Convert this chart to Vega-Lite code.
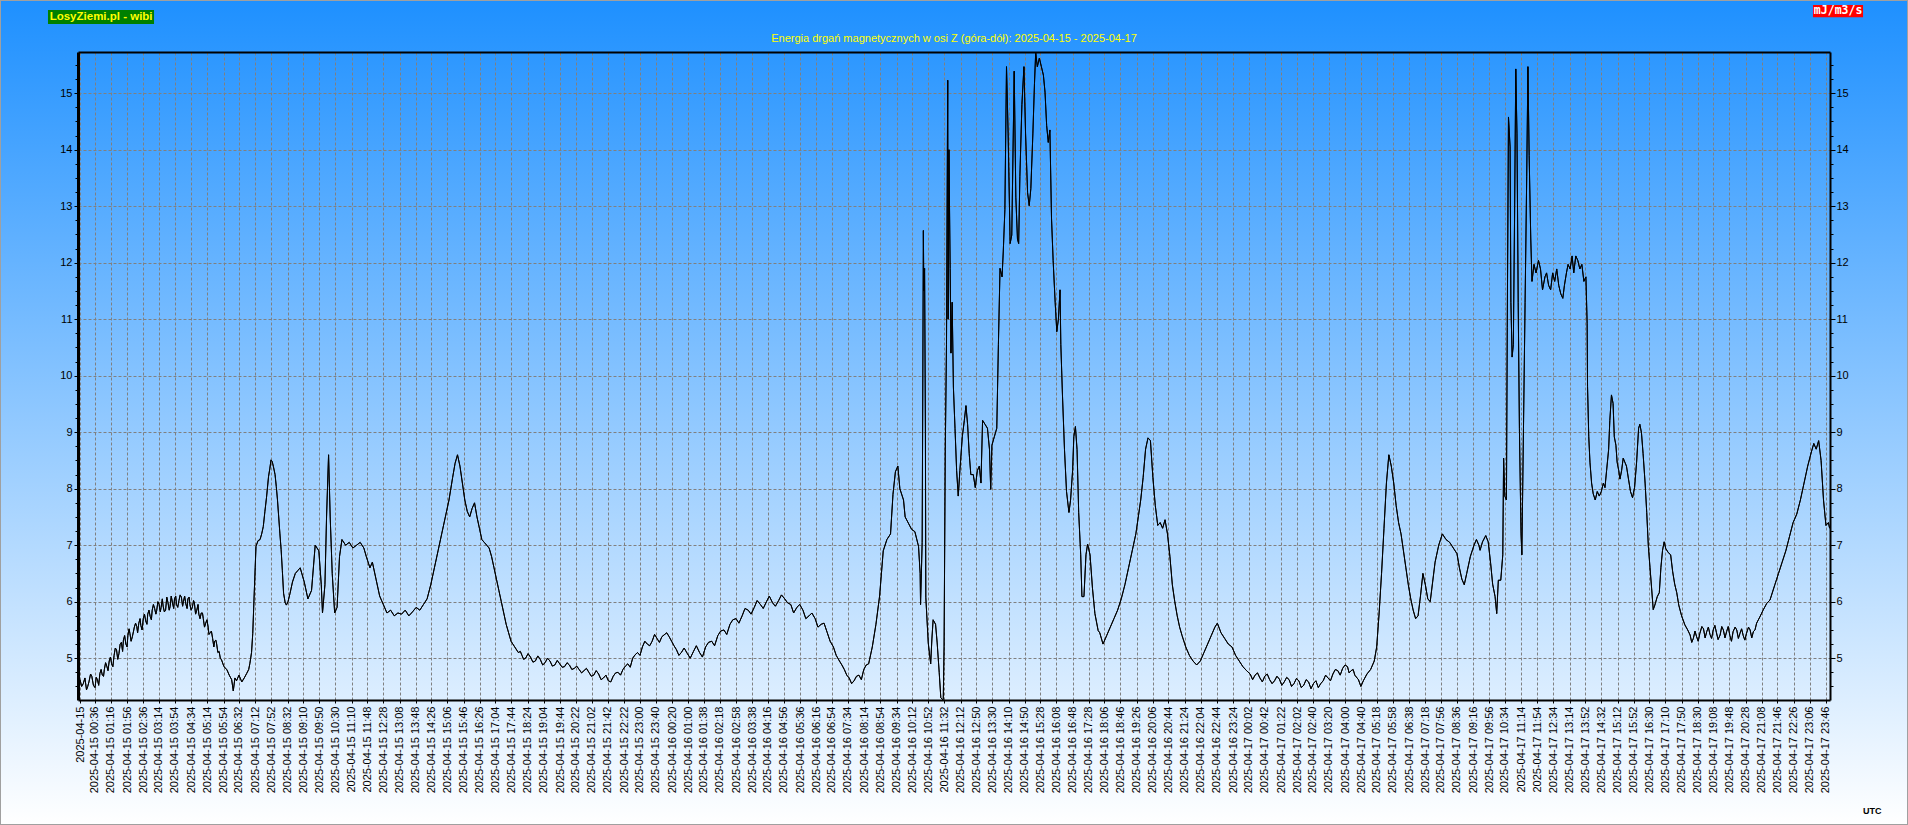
{
  "$schema": "https://vega.github.io/schema/vega-lite/v6.json",
  "width": 1908,
  "height": 825,
  "padding": 0,
  "autosize": {"type": "none"},
  "background": "#ffffff",
  "view": {
    "fill": {"gradient": "linear", "x1": 0, "y1": 0, "x2": 0, "y2": 1, "stops": [{"offset": 0, "color": "#1E90FF"}, {"offset": 1, "color": "#FFFFFF"}]},
    "stroke": "#a0a0a0",
    "strokeWidth": 2
  },
  "data": {
    "format": {"parse": {"t": "utc:'%Y-%m-%d %H:%M'"}},
    "values": [
      {"t":"2025-04-15 00:00","v":4.62},{"t":"2025-04-15 00:08","v":4.55},{"t":"2025-04-15 00:16","v":4.44},{"t":"2025-04-15 00:22","v":4.58},{"t":"2025-04-15 00:29","v":4.68},{"t":"2025-04-15 00:33","v":4.52},{"t":"2025-04-15 00:37","v":4.48},{"t":"2025-04-15 00:43","v":4.62},{"t":"2025-04-15 00:49","v":4.73},{"t":"2025-04-15 00:55","v":4.70},
      {"t":"2025-04-15 01:00","v":4.80},{"t":"2025-04-15 01:06","v":4.86},{"t":"2025-04-15 01:12","v":4.95},{"t":"2025-04-15 01:18","v":4.90},{"t":"2025-04-15 01:24","v":5.05},{"t":"2025-04-15 01:30","v":5.15},{"t":"2025-04-15 01:36","v":5.08},{"t":"2025-04-15 01:42","v":5.28},{"t":"2025-04-15 01:47","v":5.32},{"t":"2025-04-15 01:53","v":5.25},{"t":"2025-04-15 01:58","v":5.40},
      {"t":"2025-04-15 02:03","v":5.44},{"t":"2025-04-15 02:09","v":5.38},{"t":"2025-04-15 02:14","v":5.55},{"t":"2025-04-15 02:20","v":5.56},{"t":"2025-04-15 02:25","v":5.62},{"t":"2025-04-15 02:30","v":5.58},{"t":"2025-04-15 02:36","v":5.70},{"t":"2025-04-15 02:42","v":5.66},{"t":"2025-04-15 02:47","v":5.78},{"t":"2025-04-15 02:53","v":5.74},{"t":"2025-04-15 02:58","v":5.85},
      {"t":"2025-04-15 03:04","v":5.88},{"t":"2025-04-15 03:09","v":5.84},{"t":"2025-04-15 03:15","v":5.95},{"t":"2025-04-15 03:20","v":5.90},{"t":"2025-04-15 03:25","v":5.92},{"t":"2025-04-15 03:31","v":5.85},{"t":"2025-04-15 03:37","v":5.98},{"t":"2025-04-15 03:42","v":5.91},{"t":"2025-04-15 03:48","v":5.98},{"t":"2025-04-15 03:53","v":6.05},{"t":"2025-04-15 03:58","v":5.95},
      {"t":"2025-04-15 04:04","v":6.02},{"t":"2025-04-15 04:10","v":6.08},{"t":"2025-04-15 04:15","v":6.00},{"t":"2025-04-15 04:21","v":5.96},{"t":"2025-04-15 04:26","v":6.05},{"t":"2025-04-15 04:31","v":5.95},{"t":"2025-04-15 04:37","v":5.90},{"t":"2025-04-15 04:42","v":5.98},{"t":"2025-04-15 04:48","v":5.85},{"t":"2025-04-15 04:53","v":5.78},{"t":"2025-04-15 04:59","v":5.80},
      {"t":"2025-04-15 05:04","v":5.70},{"t":"2025-04-15 05:10","v":5.62},{"t":"2025-04-15 05:16","v":5.55},{"t":"2025-04-15 05:21","v":5.45},{"t":"2025-04-15 05:27","v":5.35},{"t":"2025-04-15 05:32","v":5.30},{"t":"2025-04-15 05:37","v":5.25},{"t":"2025-04-15 05:43","v":5.12},{"t":"2025-04-15 05:49","v":4.97},{"t":"2025-04-15 05:55","v":4.85},
      {"t":"2025-04-15 00:04","v":4.50},{"t":"2025-04-15 00:12","v":4.65},{"t":"2025-04-15 00:19","v":4.50},{"t":"2025-04-15 00:26","v":4.72},{"t":"2025-04-15 00:40","v":4.66},{"t":"2025-04-15 00:46","v":4.52},{"t":"2025-04-15 00:52","v":4.80},{"t":"2025-04-15 00:58","v":4.68},{"t":"2025-04-15 01:03","v":4.92},{"t":"2025-04-15 01:09","v":4.78},{"t":"2025-04-15 01:15","v":5.02},{"t":"2025-04-15 01:21","v":4.85},{"t":"2025-04-15 01:27","v":5.18},{"t":"2025-04-15 01:33","v":4.98},{"t":"2025-04-15 01:39","v":5.25},{"t":"2025-04-15 01:45","v":5.12},{"t":"2025-04-15 01:50","v":5.40},{"t":"2025-04-15 01:56","v":5.20},
      {"t":"2025-04-15 02:01","v":5.52},{"t":"2025-04-15 02:06","v":5.30},{"t":"2025-04-15 02:12","v":5.48},{"t":"2025-04-15 02:17","v":5.62},{"t":"2025-04-15 02:22","v":5.45},{"t":"2025-04-15 02:28","v":5.70},{"t":"2025-04-15 02:33","v":5.50},{"t":"2025-04-15 02:39","v":5.78},{"t":"2025-04-15 02:45","v":5.60},{"t":"2025-04-15 02:50","v":5.85},{"t":"2025-04-15 02:56","v":5.68},
      {"t":"2025-04-15 03:01","v":5.95},{"t":"2025-04-15 03:07","v":5.78},{"t":"2025-04-15 03:12","v":6.00},{"t":"2025-04-15 03:18","v":5.82},{"t":"2025-04-15 03:23","v":6.05},{"t":"2025-04-15 03:28","v":5.82},{"t":"2025-04-15 03:34","v":6.08},{"t":"2025-04-15 03:40","v":5.85},{"t":"2025-04-15 03:45","v":6.10},{"t":"2025-04-15 03:51","v":5.88},{"t":"2025-04-15 03:56","v":6.10},
      {"t":"2025-04-15 04:01","v":5.90},{"t":"2025-04-15 04:07","v":6.12},{"t":"2025-04-15 04:13","v":5.92},{"t":"2025-04-15 04:18","v":6.10},{"t":"2025-04-15 04:24","v":5.88},{"t":"2025-04-15 04:29","v":6.08},{"t":"2025-04-15 04:34","v":5.85},{"t":"2025-04-15 04:40","v":6.02},{"t":"2025-04-15 04:45","v":5.78},{"t":"2025-04-15 04:51","v":5.95},{"t":"2025-04-15 04:56","v":5.70},
      {"t":"2025-04-15 05:02","v":5.80},{"t":"2025-04-15 05:07","v":5.55},{"t":"2025-04-15 05:13","v":5.68},{"t":"2025-04-15 05:18","v":5.42},{"t":"2025-04-15 05:24","v":5.48},{"t":"2025-04-15 05:30","v":5.20},{"t":"2025-04-15 05:35","v":5.32},{"t":"2025-04-15 05:40","v":5.10},{"t":"2025-04-15 05:46","v":5.00},
      {"t":"2025-04-15 06:02","v":4.80},{"t":"2025-04-15 06:08","v":4.70},{"t":"2025-04-15 06:14","v":4.62},{"t":"2025-04-15 06:18","v":4.42},{"t":"2025-04-15 06:22","v":4.65},{"t":"2025-04-15 06:26","v":4.60},{"t":"2025-04-15 06:32","v":4.70},{"t":"2025-04-15 06:39","v":4.58},{"t":"2025-04-15 06:45","v":4.65},{"t":"2025-04-15 06:51","v":4.73},{"t":"2025-04-15 06:56","v":4.80},{"t":"2025-04-15 06:59","v":4.91},
      {"t":"2025-04-15 07:03","v":5.10},{"t":"2025-04-15 07:06","v":5.44},{"t":"2025-04-15 07:09","v":6.03},{"t":"2025-04-15 07:12","v":6.60},{"t":"2025-04-15 07:14","v":6.98},{"t":"2025-04-15 07:19","v":7.08},{"t":"2025-04-15 07:24","v":7.10},{"t":"2025-04-15 07:28","v":7.20},{"t":"2025-04-15 07:32","v":7.33},{"t":"2025-04-15 07:36","v":7.60},{"t":"2025-04-15 07:40","v":7.85},{"t":"2025-04-15 07:45","v":8.22},{"t":"2025-04-15 07:48","v":8.35},{"t":"2025-04-15 07:51","v":8.51},{"t":"2025-04-15 07:54","v":8.48},{"t":"2025-04-15 07:57","v":8.39},
      {"t":"2025-04-15 08:01","v":8.25},{"t":"2025-04-15 08:04","v":8.04},{"t":"2025-04-15 08:07","v":7.80},{"t":"2025-04-15 08:10","v":7.50},{"t":"2025-04-15 08:13","v":7.20},{"t":"2025-04-15 08:16","v":6.92},{"t":"2025-04-15 08:19","v":6.55},{"t":"2025-04-15 08:22","v":6.15},{"t":"2025-04-15 08:26","v":5.98},{"t":"2025-04-15 08:29","v":5.94},{"t":"2025-04-15 08:33","v":6.00},{"t":"2025-04-15 08:38","v":6.15},{"t":"2025-04-15 08:44","v":6.35},{"t":"2025-04-15 08:51","v":6.50},{"t":"2025-04-15 08:57","v":6.55},
      {"t":"2025-04-15 09:03","v":6.60},{"t":"2025-04-15 09:13","v":6.35},{"t":"2025-04-15 09:22","v":6.05},{"t":"2025-04-15 09:31","v":6.20},{"t":"2025-04-15 09:40","v":7.00},{"t":"2025-04-15 09:49","v":6.90},{"t":"2025-04-15 09:55","v":6.30},{"t":"2025-04-15 09:58","v":5.80},
      {"t":"2025-04-15 10:04","v":6.30},{"t":"2025-04-15 10:08","v":7.50},{"t":"2025-04-15 10:13","v":8.60},{"t":"2025-04-15 10:17","v":7.50},{"t":"2025-04-15 10:22","v":6.50},{"t":"2025-04-15 10:28","v":5.80},{"t":"2025-04-15 10:34","v":5.90},{"t":"2025-04-15 10:40","v":6.80},{"t":"2025-04-15 10:46","v":7.10},{"t":"2025-04-15 10:55","v":7.00},
      {"t":"2025-04-15 11:04","v":7.05},{"t":"2025-04-15 11:13","v":6.95},{"t":"2025-04-15 11:22","v":7.00},{"t":"2025-04-15 11:31","v":7.05},{"t":"2025-04-15 11:40","v":6.95},{"t":"2025-04-15 11:46","v":6.80},{"t":"2025-04-15 11:55","v":6.60},
      {"t":"2025-04-15 12:01","v":6.70},{"t":"2025-04-15 12:10","v":6.40},{"t":"2025-04-15 12:19","v":6.10},{"t":"2025-04-15 12:28","v":5.95},{"t":"2025-04-15 12:37","v":5.80},{"t":"2025-04-15 12:46","v":5.85},{"t":"2025-04-15 12:55","v":5.75},
      {"t":"2025-04-15 13:04","v":5.80},{"t":"2025-04-15 13:13","v":5.78},{"t":"2025-04-15 13:22","v":5.85},{"t":"2025-04-15 13:31","v":5.75},{"t":"2025-04-15 13:40","v":5.82},{"t":"2025-04-15 13:49","v":5.90},{"t":"2025-04-15 13:58","v":5.85},
      {"t":"2025-04-15 14:07","v":5.95},{"t":"2025-04-15 14:16","v":6.05},{"t":"2025-04-15 14:25","v":6.30},{"t":"2025-04-15 14:34","v":6.60},{"t":"2025-04-15 14:43","v":6.90},{"t":"2025-04-15 14:52","v":7.20},
      {"t":"2025-04-15 15:01","v":7.50},{"t":"2025-04-15 15:10","v":7.80},{"t":"2025-04-15 15:19","v":8.20},{"t":"2025-04-15 15:25","v":8.45},{"t":"2025-04-15 15:31","v":8.60},{"t":"2025-04-15 15:37","v":8.40},{"t":"2025-04-15 15:43","v":8.10},{"t":"2025-04-15 15:49","v":7.80},{"t":"2025-04-15 15:55","v":7.60},
      {"t":"2025-04-15 16:01","v":7.50},{"t":"2025-04-15 16:07","v":7.65},{"t":"2025-04-15 16:13","v":7.75},{"t":"2025-04-15 16:19","v":7.50},{"t":"2025-04-15 16:25","v":7.30},{"t":"2025-04-15 16:31","v":7.10},{"t":"2025-04-15 16:37","v":7.05},{"t":"2025-04-15 16:43","v":7.00},{"t":"2025-04-15 16:49","v":6.95},{"t":"2025-04-15 16:55","v":6.80},
      {"t":"2025-04-15 17:01","v":6.60},{"t":"2025-04-15 17:07","v":6.40},{"t":"2025-04-15 17:13","v":6.20},{"t":"2025-04-15 17:19","v":6.00},{"t":"2025-04-15 17:25","v":5.80},{"t":"2025-04-15 17:31","v":5.60},{"t":"2025-04-15 17:37","v":5.45},{"t":"2025-04-15 17:43","v":5.30},{"t":"2025-04-15 17:52","v":5.20},
      {"t":"2025-04-15 18:01","v":5.10},{"t":"2025-04-15 18:10","v":5.05},{"t":"2025-04-15 18:19","v":5.00},{"t":"2025-04-15 18:31","v":5.02},{"t":"2025-04-15 18:43","v":4.95},{"t":"2025-04-15 18:55","v":4.98},
      {"t":"2025-04-15 19:07","v":4.92},{"t":"2025-04-15 19:19","v":4.95},{"t":"2025-04-15 19:31","v":4.88},{"t":"2025-04-15 19:43","v":4.90},{"t":"2025-04-15 19:55","v":4.85},
      {"t":"2025-04-15 20:07","v":4.88},{"t":"2025-04-15 20:19","v":4.82},{"t":"2025-04-15 20:31","v":4.80},{"t":"2025-04-15 20:43","v":4.78},{"t":"2025-04-15 20:55","v":4.75},
      {"t":"2025-04-15 21:07","v":4.70},{"t":"2025-04-15 21:19","v":4.72},{"t":"2025-04-15 21:31","v":4.65},{"t":"2025-04-15 21:43","v":4.60},{"t":"2025-04-15 21:55","v":4.68},
      {"t":"2025-04-15 22:07","v":4.75},{"t":"2025-04-15 22:19","v":4.80},{"t":"2025-04-15 22:31","v":4.90},{"t":"2025-04-15 22:43","v":5.00},{"t":"2025-04-15 22:55","v":5.10},
      {"t":"2025-04-15 23:07","v":5.20},{"t":"2025-04-15 23:19","v":5.25},{"t":"2025-04-15 23:31","v":5.30},{"t":"2025-04-15 23:43","v":5.35},{"t":"2025-04-15 23:55","v":5.38},
      {"t":"2025-04-15 18:06","v":5.12},{"t":"2025-04-15 18:14","v":4.98},{"t":"2025-04-15 18:25","v":5.08},{"t":"2025-04-15 18:37","v":4.93},{"t":"2025-04-15 18:49","v":5.04},{"t":"2025-04-15 19:01","v":4.88},{"t":"2025-04-15 19:13","v":5.00},{"t":"2025-04-15 19:25","v":4.86},{"t":"2025-04-15 19:37","v":4.96},{"t":"2025-04-15 19:49","v":4.84},
      {"t":"2025-04-15 20:01","v":4.92},{"t":"2025-04-15 20:13","v":4.80},{"t":"2025-04-15 20:25","v":4.86},{"t":"2025-04-15 20:37","v":4.74},{"t":"2025-04-15 20:49","v":4.82},{"t":"2025-04-15 21:01","v":4.68},{"t":"2025-04-15 21:13","v":4.78},{"t":"2025-04-15 21:25","v":4.62},{"t":"2025-04-15 21:37","v":4.70},{"t":"2025-04-15 21:49","v":4.58},
      {"t":"2025-04-15 22:01","v":4.74},{"t":"2025-04-15 22:13","v":4.70},{"t":"2025-04-15 22:25","v":4.86},{"t":"2025-04-15 22:37","v":4.84},{"t":"2025-04-15 22:49","v":5.06},{"t":"2025-04-15 23:01","v":5.05},{"t":"2025-04-15 23:13","v":5.30},{"t":"2025-04-15 23:25","v":5.22},{"t":"2025-04-15 23:37","v":5.42},{"t":"2025-04-15 23:49","v":5.28},
      {"t":"2025-04-16 00:07","v":5.45},{"t":"2025-04-16 00:19","v":5.30},{"t":"2025-04-16 00:31","v":5.15},{"t":"2025-04-16 00:43","v":5.10},{"t":"2025-04-16 00:58","v":5.08},
      {"t":"2025-04-16 01:13","v":5.12},{"t":"2025-04-16 01:28","v":5.10},{"t":"2025-04-16 01:43","v":5.20},{"t":"2025-04-16 01:58","v":5.30},
      {"t":"2025-04-16 02:13","v":5.40},{"t":"2025-04-16 02:28","v":5.50},{"t":"2025-04-16 02:43","v":5.60},{"t":"2025-04-16 02:58","v":5.70},
      {"t":"2025-04-16 03:13","v":5.75},{"t":"2025-04-16 03:28","v":5.85},{"t":"2025-04-16 03:43","v":5.90},{"t":"2025-04-16 03:58","v":5.95},
      {"t":"2025-04-16 04:13","v":6.00},{"t":"2025-04-16 04:28","v":5.98},{"t":"2025-04-16 04:43","v":6.02},{"t":"2025-04-16 04:58","v":6.05},
      {"t":"2025-04-16 05:13","v":5.95},{"t":"2025-04-16 05:28","v":5.90},{"t":"2025-04-16 05:43","v":5.85},{"t":"2025-04-16 05:58","v":5.75},
      {"t":"2025-04-16 06:13","v":5.70},{"t":"2025-04-16 06:28","v":5.60},{"t":"2025-04-16 06:43","v":5.45},{"t":"2025-04-16 06:58","v":5.20},
      {"t":"2025-04-16 07:13","v":4.95},{"t":"2025-04-16 07:25","v":4.80},{"t":"2025-04-16 07:37","v":4.65},{"t":"2025-04-16 07:49","v":4.60},
      {"t":"2025-04-16 08:01","v":4.70},{"t":"2025-04-16 08:13","v":4.80},{"t":"2025-04-16 08:25","v":4.90},{"t":"2025-04-16 08:34","v":5.20},{"t":"2025-04-16 08:43","v":5.60},{"t":"2025-04-16 08:52","v":6.10},
      {"t":"2025-04-16 00:13","v":5.38},{"t":"2025-04-16 00:25","v":5.22},{"t":"2025-04-16 00:37","v":5.05},{"t":"2025-04-16 00:50","v":5.18},{"t":"2025-04-16 01:05","v":5.00},{"t":"2025-04-16 01:20","v":5.22},{"t":"2025-04-16 01:35","v":5.02},{"t":"2025-04-16 01:50","v":5.28},
      {"t":"2025-04-16 02:05","v":5.22},{"t":"2025-04-16 02:20","v":5.48},{"t":"2025-04-16 02:35","v":5.42},{"t":"2025-04-16 02:50","v":5.68},{"t":"2025-04-16 03:05","v":5.62},{"t":"2025-04-16 03:20","v":5.88},{"t":"2025-04-16 03:35","v":5.78},{"t":"2025-04-16 03:50","v":6.02},
      {"t":"2025-04-16 04:05","v":5.88},{"t":"2025-04-16 04:20","v":6.10},{"t":"2025-04-16 04:35","v":5.92},{"t":"2025-04-16 04:50","v":6.12},{"t":"2025-04-16 05:05","v":5.98},{"t":"2025-04-16 05:20","v":5.80},{"t":"2025-04-16 05:35","v":5.95},{"t":"2025-04-16 05:50","v":5.70},
      {"t":"2025-04-16 06:05","v":5.80},{"t":"2025-04-16 06:20","v":5.55},{"t":"2025-04-16 06:35","v":5.62},{"t":"2025-04-16 06:50","v":5.30},{"t":"2025-04-16 07:05","v":5.05},{"t":"2025-04-16 07:19","v":4.88},{"t":"2025-04-16 07:31","v":4.70},{"t":"2025-04-16 07:43","v":4.55},{"t":"2025-04-16 07:55","v":4.68},{"t":"2025-04-16 08:07","v":4.62},{"t":"2025-04-16 08:19","v":4.88},
      {"t":"2025-04-16 09:01","v":6.90},{"t":"2025-04-16 09:10","v":7.10},{"t":"2025-04-16 09:19","v":7.20},{"t":"2025-04-16 09:25","v":7.90},{"t":"2025-04-16 09:31","v":8.30},{"t":"2025-04-16 09:37","v":8.40},{"t":"2025-04-16 09:42","v":8.00},{"t":"2025-04-16 09:51","v":7.80},{"t":"2025-04-16 09:55","v":7.50},
      {"t":"2025-04-16 10:03","v":7.39},{"t":"2025-04-16 10:11","v":7.28},{"t":"2025-04-16 10:19","v":7.24},{"t":"2025-04-16 10:28","v":6.98},{"t":"2025-04-16 10:32","v":6.50},{"t":"2025-04-16 10:33","v":5.95},{"t":"2025-04-16 10:37","v":7.05},{"t":"2025-04-16 10:40","v":12.57},{"t":"2025-04-16 10:41","v":11.50},{"t":"2025-04-16 10:43","v":11.90},{"t":"2025-04-16 10:45","v":9.00},{"t":"2025-04-16 10:46","v":6.08},{"t":"2025-04-16 10:52","v":5.27},{"t":"2025-04-16 10:58","v":4.90},
      {"t":"2025-04-16 11:01","v":5.34},{"t":"2025-04-16 11:04","v":5.68},{"t":"2025-04-16 11:10","v":5.60},{"t":"2025-04-16 11:14","v":5.27},{"t":"2025-04-16 11:19","v":4.75},{"t":"2025-04-16 11:23","v":4.30},{"t":"2025-04-16 11:27","v":4.27},{"t":"2025-04-16 11:29","v":4.27},{"t":"2025-04-16 11:31","v":5.20},{"t":"2025-04-16 11:34","v":8.70},{"t":"2025-04-16 11:37","v":10.55},{"t":"2025-04-16 11:40","v":15.23},{"t":"2025-04-16 11:41","v":11.00},{"t":"2025-04-16 11:43","v":14.00},{"t":"2025-04-16 11:46","v":11.90},{"t":"2025-04-16 11:48","v":10.40},{"t":"2025-04-16 11:51","v":11.30},{"t":"2025-04-16 11:54","v":9.80},{"t":"2025-04-16 11:58","v":9.07},
      {"t":"2025-04-16 12:02","v":8.32},{"t":"2025-04-16 12:06","v":7.87},{"t":"2025-04-16 12:10","v":8.32},{"t":"2025-04-16 12:16","v":8.92},{"t":"2025-04-16 12:21","v":9.21},{"t":"2025-04-16 12:25","v":9.47},{"t":"2025-04-16 12:29","v":9.14},{"t":"2025-04-16 12:33","v":8.62},{"t":"2025-04-16 12:37","v":8.25},{"t":"2025-04-16 12:43","v":8.25},{"t":"2025-04-16 12:48","v":8.02},{"t":"2025-04-16 12:53","v":8.32},{"t":"2025-04-16 12:58","v":8.40},
      {"t":"2025-04-16 13:02","v":8.10},{"t":"2025-04-16 13:06","v":9.21},{"t":"2025-04-16 13:12","v":9.14},{"t":"2025-04-16 13:18","v":9.07},{"t":"2025-04-16 13:23","v":8.70},{"t":"2025-04-16 13:26","v":7.99},{"t":"2025-04-16 13:29","v":8.77},{"t":"2025-04-16 13:35","v":8.92},{"t":"2025-04-16 13:41","v":9.07},{"t":"2025-04-16 13:45","v":10.55},{"t":"2025-04-16 13:49","v":11.90},{"t":"2025-04-16 13:54","v":11.75},{"t":"2025-04-16 13:57","v":12.19},
      {"t":"2025-04-16 14:01","v":12.94},{"t":"2025-04-16 14:05","v":15.47},{"t":"2025-04-16 14:09","v":14.28},{"t":"2025-04-16 14:14","v":12.34},{"t":"2025-04-16 14:18","v":12.49},{"t":"2025-04-16 14:24","v":15.39},{"t":"2025-04-16 14:28","v":13.16},{"t":"2025-04-16 14:32","v":12.42},{"t":"2025-04-16 14:35","v":12.34},{"t":"2025-04-16 14:38","v":13.53},{"t":"2025-04-16 14:43","v":14.80},{"t":"2025-04-16 14:48","v":15.47},{"t":"2025-04-16 14:52","v":14.28},{"t":"2025-04-16 14:57","v":13.24},
      {"t":"2025-04-16 15:01","v":13.01},{"t":"2025-04-16 15:05","v":13.31},{"t":"2025-04-16 15:10","v":14.28},{"t":"2025-04-16 15:14","v":15.17},{"t":"2025-04-16 15:17","v":15.72},{"t":"2025-04-16 15:21","v":15.47},{"t":"2025-04-16 15:26","v":15.62},{"t":"2025-04-16 15:31","v":15.47},{"t":"2025-04-16 15:36","v":15.32},{"t":"2025-04-16 15:40","v":15.02},{"t":"2025-04-16 15:44","v":14.43},{"t":"2025-04-16 15:48","v":14.13},{"t":"2025-04-16 15:52","v":14.35},{"t":"2025-04-16 15:56","v":12.79},
      {"t":"2025-04-16 16:00","v":12.04},{"t":"2025-04-16 16:05","v":11.30},{"t":"2025-04-16 16:09","v":10.78},{"t":"2025-04-16 16:13","v":11.00},{"t":"2025-04-16 16:17","v":11.52},{"t":"2025-04-16 16:19","v":10.55},{"t":"2025-04-16 16:23","v":9.66},{"t":"2025-04-16 16:28","v":8.69},{"t":"2025-04-16 16:33","v":7.95},{"t":"2025-04-16 16:39","v":7.58},{"t":"2025-04-16 16:43","v":7.80},{"t":"2025-04-16 16:48","v":8.32},{"t":"2025-04-16 16:51","v":8.92},{"t":"2025-04-16 16:55","v":9.10},{"t":"2025-04-16 16:59","v":8.69},
      {"t":"2025-04-16 17:03","v":7.58},{"t":"2025-04-16 17:08","v":6.83},{"t":"2025-04-16 17:11","v":6.09},{"t":"2025-04-16 17:16","v":6.09},{"t":"2025-04-16 17:21","v":6.83},{"t":"2025-04-16 17:25","v":7.02},{"t":"2025-04-16 17:31","v":6.83},{"t":"2025-04-16 17:37","v":6.24},{"t":"2025-04-16 17:43","v":5.79},{"t":"2025-04-16 17:51","v":5.49},{"t":"2025-04-16 17:55","v":5.45},
      {"t":"2025-04-16 18:03","v":5.25},{"t":"2025-04-16 18:12","v":5.40},{"t":"2025-04-16 18:21","v":5.55},{"t":"2025-04-16 18:30","v":5.70},{"t":"2025-04-16 18:39","v":5.85},{"t":"2025-04-16 18:48","v":6.05},{"t":"2025-04-16 18:57","v":6.30},
      {"t":"2025-04-16 19:06","v":6.60},{"t":"2025-04-16 19:15","v":6.90},{"t":"2025-04-16 19:24","v":7.20},{"t":"2025-04-16 19:30","v":7.50},{"t":"2025-04-16 19:36","v":7.80},{"t":"2025-04-16 19:42","v":8.20},{"t":"2025-04-16 19:48","v":8.70},{"t":"2025-04-16 19:54","v":8.90},
      {"t":"2025-04-16 20:00","v":8.85},{"t":"2025-04-16 20:06","v":8.20},{"t":"2025-04-16 20:12","v":7.70},{"t":"2025-04-16 20:18","v":7.35},{"t":"2025-04-16 20:24","v":7.40},{"t":"2025-04-16 20:30","v":7.30},{"t":"2025-04-16 20:36","v":7.45},{"t":"2025-04-16 20:42","v":7.20},{"t":"2025-04-16 20:48","v":6.80},{"t":"2025-04-16 20:54","v":6.30},
      {"t":"2025-04-16 21:00","v":6.00},{"t":"2025-04-16 21:06","v":5.75},{"t":"2025-04-16 21:12","v":5.55},{"t":"2025-04-16 21:18","v":5.40},{"t":"2025-04-16 21:27","v":5.20},{"t":"2025-04-16 21:36","v":5.05},{"t":"2025-04-16 21:45","v":4.95},{"t":"2025-04-16 21:54","v":4.88},
      {"t":"2025-04-16 22:03","v":4.95},{"t":"2025-04-16 22:12","v":5.10},{"t":"2025-04-16 22:21","v":5.25},{"t":"2025-04-16 22:30","v":5.40},{"t":"2025-04-16 22:39","v":5.55},{"t":"2025-04-16 22:45","v":5.62},{"t":"2025-04-16 22:54","v":5.45},
      {"t":"2025-04-16 23:03","v":5.35},{"t":"2025-04-16 23:12","v":5.25},{"t":"2025-04-16 23:21","v":5.20},{"t":"2025-04-16 23:30","v":5.05},{"t":"2025-04-16 23:39","v":4.95},{"t":"2025-04-16 23:48","v":4.85},{"t":"2025-04-16 23:57","v":4.78},
      {"t":"2025-04-17 00:06","v":4.72},{"t":"2025-04-17 00:18","v":4.70},{"t":"2025-04-17 00:30","v":4.65},{"t":"2025-04-17 00:42","v":4.68},{"t":"2025-04-17 00:54","v":4.62},
      {"t":"2025-04-17 01:06","v":4.60},{"t":"2025-04-17 01:18","v":4.63},{"t":"2025-04-17 01:30","v":4.58},{"t":"2025-04-17 01:42","v":4.62},{"t":"2025-04-17 01:54","v":4.55},
      {"t":"2025-04-17 02:06","v":4.60},{"t":"2025-04-17 02:18","v":4.52},{"t":"2025-04-17 02:30","v":4.58},{"t":"2025-04-17 02:42","v":4.55},{"t":"2025-04-17 02:54","v":4.48},
      {"t":"2025-04-17 03:06","v":4.60},{"t":"2025-04-17 03:18","v":4.65},{"t":"2025-04-17 03:30","v":4.72},{"t":"2025-04-17 03:42","v":4.78},{"t":"2025-04-17 03:54","v":4.82},
      {"t":"2025-04-17 00:12","v":4.62},{"t":"2025-04-17 00:24","v":4.74},{"t":"2025-04-17 00:36","v":4.58},{"t":"2025-04-17 00:48","v":4.72},{"t":"2025-04-17 01:00","v":4.55},{"t":"2025-04-17 01:12","v":4.68},{"t":"2025-04-17 01:24","v":4.52},{"t":"2025-04-17 01:36","v":4.66},{"t":"2025-04-17 01:48","v":4.50},
      {"t":"2025-04-17 02:00","v":4.64},{"t":"2025-04-17 02:12","v":4.48},{"t":"2025-04-17 02:24","v":4.62},{"t":"2025-04-17 02:36","v":4.46},{"t":"2025-04-17 02:48","v":4.60},{"t":"2025-04-17 03:00","v":4.55},{"t":"2025-04-17 03:12","v":4.70},{"t":"2025-04-17 03:24","v":4.60},{"t":"2025-04-17 03:36","v":4.80},{"t":"2025-04-17 03:48","v":4.70},{"t":"2025-04-17 04:00","v":4.88},{"t":"2025-04-17 04:10","v":4.74},{"t":"2025-04-17 04:20","v":4.80},
      {"t":"2025-04-17 04:06","v":4.85},{"t":"2025-04-17 04:15","v":4.78},{"t":"2025-04-17 04:24","v":4.70},{"t":"2025-04-17 04:33","v":4.62},{"t":"2025-04-17 04:39","v":4.50},{"t":"2025-04-17 04:45","v":4.60},{"t":"2025-04-17 04:54","v":4.72},
      {"t":"2025-04-17 05:03","v":4.80},{"t":"2025-04-17 05:12","v":4.95},{"t":"2025-04-17 05:18","v":5.20},{"t":"2025-04-17 05:24","v":5.80},{"t":"2025-04-17 05:30","v":6.50},{"t":"2025-04-17 05:36","v":7.30},{"t":"2025-04-17 05:42","v":8.10},{"t":"2025-04-17 05:48","v":8.60},{"t":"2025-04-17 05:54","v":8.40},
      {"t":"2025-04-17 06:00","v":8.10},{"t":"2025-04-17 06:06","v":7.70},{"t":"2025-04-17 06:12","v":7.40},{"t":"2025-04-17 06:18","v":7.20},{"t":"2025-04-17 06:24","v":6.90},{"t":"2025-04-17 06:30","v":6.60},{"t":"2025-04-17 06:36","v":6.30},{"t":"2025-04-17 06:42","v":6.05},{"t":"2025-04-17 06:48","v":5.85},{"t":"2025-04-17 06:54","v":5.70},
      {"t":"2025-04-17 07:00","v":5.75},{"t":"2025-04-17 07:06","v":6.10},{"t":"2025-04-17 07:12","v":6.50},{"t":"2025-04-17 07:18","v":6.30},{"t":"2025-04-17 07:24","v":6.05},{"t":"2025-04-17 07:30","v":6.00},{"t":"2025-04-17 07:36","v":6.35},{"t":"2025-04-17 07:42","v":6.70},{"t":"2025-04-17 07:51","v":7.00},
      {"t":"2025-04-17 08:00","v":7.20},{"t":"2025-04-17 08:09","v":7.10},{"t":"2025-04-17 08:18","v":7.05},{"t":"2025-04-17 08:27","v":6.95},{"t":"2025-04-17 08:36","v":6.85},{"t":"2025-04-17 08:42","v":6.60},{"t":"2025-04-17 08:48","v":6.40},{"t":"2025-04-17 08:54","v":6.30},
      {"t":"2025-04-17 09:00","v":6.50},{"t":"2025-04-17 09:09","v":6.80},{"t":"2025-04-17 09:18","v":7.00},{"t":"2025-04-17 09:24","v":7.10},{"t":"2025-04-17 09:30","v":7.00},{"t":"2025-04-17 09:33","v":6.91},{"t":"2025-04-17 09:39","v":7.06},{"t":"2025-04-17 09:47","v":7.17},{"t":"2025-04-17 09:53","v":7.06},{"t":"2025-04-17 09:59","v":6.68},
      {"t":"2025-04-17 10:04","v":6.31},{"t":"2025-04-17 10:10","v":6.09},{"t":"2025-04-17 10:14","v":5.79},{"t":"2025-04-17 10:18","v":6.38},{"t":"2025-04-17 10:24","v":6.38},{"t":"2025-04-17 10:29","v":6.83},{"t":"2025-04-17 10:31","v":8.54},{"t":"2025-04-17 10:34","v":7.87},{"t":"2025-04-17 10:38","v":7.80},{"t":"2025-04-17 10:40","v":10.85},{"t":"2025-04-17 10:43","v":14.58},{"t":"2025-04-17 10:47","v":14.05},{"t":"2025-04-17 10:49","v":11.30},{"t":"2025-04-17 10:52","v":10.33},{"t":"2025-04-17 10:55","v":10.55},{"t":"2025-04-17 10:58","v":12.79},
      {"t":"2025-04-17 11:01","v":15.43},{"t":"2025-04-17 11:04","v":14.28},{"t":"2025-04-17 11:07","v":11.30},{"t":"2025-04-17 11:10","v":9.07},{"t":"2025-04-17 11:14","v":7.20},{"t":"2025-04-17 11:16","v":6.83},{"t":"2025-04-17 11:20","v":9.07},{"t":"2025-04-17 11:24","v":11.30},{"t":"2025-04-17 11:28","v":13.53},{"t":"2025-04-17 11:31","v":15.47},{"t":"2025-04-17 11:34","v":13.90},{"t":"2025-04-17 11:38","v":12.42},{"t":"2025-04-17 11:41","v":11.67},{"t":"2025-04-17 11:46","v":11.97},{"t":"2025-04-17 11:51","v":11.82},{"t":"2025-04-17 11:57","v":12.04},
      {"t":"2025-04-17 12:02","v":11.89},{"t":"2025-04-17 12:07","v":11.52},{"t":"2025-04-17 12:13","v":11.75},{"t":"2025-04-17 12:17","v":11.82},{"t":"2025-04-17 12:22","v":11.60},{"t":"2025-04-17 12:27","v":11.52},{"t":"2025-04-17 12:32","v":11.82},{"t":"2025-04-17 12:37","v":11.67},{"t":"2025-04-17 12:42","v":11.89},{"t":"2025-04-17 12:47","v":11.60},{"t":"2025-04-17 12:52","v":11.45},{"t":"2025-04-17 12:57","v":11.37},
      {"t":"2025-04-17 13:01","v":11.60},{"t":"2025-04-17 13:06","v":11.82},{"t":"2025-04-17 13:10","v":11.97},{"t":"2025-04-17 13:15","v":11.89},{"t":"2025-04-17 13:20","v":12.12},{"t":"2025-04-17 13:24","v":11.82},{"t":"2025-04-17 13:29","v":12.12},{"t":"2025-04-17 13:34","v":12.04},{"t":"2025-04-17 13:39","v":11.89},{"t":"2025-04-17 13:44","v":11.97},{"t":"2025-04-17 13:49","v":11.67},{"t":"2025-04-17 13:54","v":11.75},{"t":"2025-04-17 13:57","v":10.93},{"t":"2025-04-17 13:58","v":9.81},
      {"t":"2025-04-17 14:01","v":8.92},{"t":"2025-04-17 14:04","v":8.47},{"t":"2025-04-17 14:08","v":8.10},{"t":"2025-04-17 14:12","v":7.91},{"t":"2025-04-17 14:17","v":7.80},{"t":"2025-04-17 14:22","v":7.95},{"t":"2025-04-17 14:27","v":7.87},{"t":"2025-04-17 14:32","v":7.95},{"t":"2025-04-17 14:37","v":8.10},{"t":"2025-04-17 14:41","v":8.02},{"t":"2025-04-17 14:45","v":8.32},{"t":"2025-04-17 14:50","v":8.69},{"t":"2025-04-17 14:53","v":9.21},{"t":"2025-04-17 14:57","v":9.66},
      {"t":"2025-04-17 15:01","v":9.51},{"t":"2025-04-17 15:04","v":8.92},{"t":"2025-04-17 15:08","v":8.77},{"t":"2025-04-17 15:11","v":8.47},{"t":"2025-04-17 15:15","v":8.32},{"t":"2025-04-17 15:18","v":8.17},{"t":"2025-04-17 15:22","v":8.32},{"t":"2025-04-17 15:26","v":8.54},{"t":"2025-04-17 15:30","v":8.47},{"t":"2025-04-17 15:34","v":8.40},{"t":"2025-04-17 15:39","v":8.17},{"t":"2025-04-17 15:44","v":7.95},{"t":"2025-04-17 15:49","v":7.84},{"t":"2025-04-17 15:54","v":8.02},{"t":"2025-04-17 15:59","v":8.47},
      {"t":"2025-04-17 16:04","v":9.07},{"t":"2025-04-17 16:07","v":9.14},{"t":"2025-04-17 16:11","v":8.99},{"t":"2025-04-17 16:15","v":8.62},{"t":"2025-04-17 16:20","v":8.10},{"t":"2025-04-17 16:24","v":7.58},{"t":"2025-04-17 16:28","v":6.98},{"t":"2025-04-17 16:32","v":6.61},{"t":"2025-04-17 16:36","v":6.24},{"t":"2025-04-17 16:40","v":5.86},{"t":"2025-04-17 16:44","v":5.94},{"t":"2025-04-17 16:50","v":6.09},{"t":"2025-04-17 16:55","v":6.16},{"t":"2025-04-17 16:59","v":6.61},
      {"t":"2025-04-17 17:03","v":6.91},{"t":"2025-04-17 17:07","v":7.06},{"t":"2025-04-17 17:11","v":6.94},{"t":"2025-04-17 17:17","v":6.87},{"t":"2025-04-17 17:23","v":6.83},{"t":"2025-04-17 17:28","v":6.53},{"t":"2025-04-17 17:33","v":6.31},{"t":"2025-04-17 17:38","v":6.16},{"t":"2025-04-17 17:43","v":5.94},{"t":"2025-04-17 17:50","v":5.75},{"t":"2025-04-17 17:58","v":5.59},
      {"t":"2025-04-17 18:11","v":5.41},{"t":"2025-04-17 18:19","v":5.35},{"t":"2025-04-17 18:27","v":5.38},{"t":"2025-04-17 18:35","v":5.44},{"t":"2025-04-17 18:44","v":5.52},{"t":"2025-04-17 18:52","v":5.47},
      {"t":"2025-04-17 19:00","v":5.42},{"t":"2025-04-17 19:08","v":5.50},{"t":"2025-04-17 19:16","v":5.45},{"t":"2025-04-17 19:25","v":5.41},{"t":"2025-04-17 19:33","v":5.50},{"t":"2025-04-17 19:41","v":5.47},{"t":"2025-04-17 19:49","v":5.40},{"t":"2025-04-17 19:57","v":5.47},
      {"t":"2025-04-17 20:06","v":5.50},{"t":"2025-04-17 20:14","v":5.44},{"t":"2025-04-17 20:22","v":5.40},{"t":"2025-04-17 20:30","v":5.44},{"t":"2025-04-17 20:39","v":5.50},{"t":"2025-04-17 20:47","v":5.47},{"t":"2025-04-17 20:55","v":5.62},
      {"t":"2025-04-17 18:05","v":5.50},{"t":"2025-04-17 18:15","v":5.28},{"t":"2025-04-17 18:23","v":5.48},{"t":"2025-04-17 18:31","v":5.30},{"t":"2025-04-17 18:40","v":5.56},{"t":"2025-04-17 18:48","v":5.36},{"t":"2025-04-17 18:56","v":5.55},{"t":"2025-04-17 19:04","v":5.35},{"t":"2025-04-17 19:12","v":5.58},{"t":"2025-04-17 19:20","v":5.33},
      {"t":"2025-04-17 19:29","v":5.56},{"t":"2025-04-17 19:37","v":5.36},{"t":"2025-04-17 19:45","v":5.56},{"t":"2025-04-17 19:53","v":5.30},{"t":"2025-04-17 20:02","v":5.55},{"t":"2025-04-17 20:10","v":5.35},{"t":"2025-04-17 20:18","v":5.52},{"t":"2025-04-17 20:26","v":5.32},{"t":"2025-04-17 20:35","v":5.55},{"t":"2025-04-17 20:43","v":5.36},{"t":"2025-04-17 20:51","v":5.50},
      {"t":"2025-04-17 21:03","v":5.73},{"t":"2025-04-17 21:11","v":5.85},{"t":"2025-04-17 21:20","v":5.97},{"t":"2025-04-17 21:28","v":6.03},{"t":"2025-04-17 21:40","v":6.30},{"t":"2025-04-17 21:49","v":6.50},{"t":"2025-04-17 21:58","v":6.70},
      {"t":"2025-04-17 22:07","v":6.90},{"t":"2025-04-17 22:16","v":7.15},{"t":"2025-04-17 22:25","v":7.40},{"t":"2025-04-17 22:34","v":7.55},{"t":"2025-04-17 22:43","v":7.80},{"t":"2025-04-17 22:52","v":8.10},
      {"t":"2025-04-17 23:01","v":8.40},{"t":"2025-04-17 23:10","v":8.65},{"t":"2025-04-17 23:16","v":8.80},{"t":"2025-04-17 23:22","v":8.70},{"t":"2025-04-17 23:28","v":8.85},{"t":"2025-04-17 23:34","v":8.50},{"t":"2025-04-17 23:40","v":7.80},{"t":"2025-04-17 23:46","v":7.35},{"t":"2025-04-17 23:52","v":7.40},{"t":"2025-04-17 23:55","v":7.30}
    ]
  },
  "resolve": {"axis": {"x": "independent", "y": "independent"}},
  "layer": [
    {
      "mark": {"type": "line", "color": "#000000", "strokeWidth": 1},
      "encoding": {
        "x": {
          "field": "t", "type": "temporal",
          "scale": {"type": "utc", "domain": [{"utc": true, "year": 2025, "month": 4, "date": 14, "hours": 23, "minutes": 55}, {"utc": true, "year": 2025, "month": 4, "date": 17, "hours": 23, "minutes": 56}], "range": [78, 1830]},
          "axis": {
            "orient": "top", "offset": -52, "title": null, "labels": false, "ticks": false,
            "grid": true, "gridColor": "#808080", "gridDash": [3, 2], "gridWidth": 1, "gridOpacity": 1,
            "domain": true, "domainColor": "#000000", "domainWidth": 2,
            "values": [
              {"utc":true,"year":2025,"month":4,"date":15,"hours":0,"minutes":0},{"utc":true,"year":2025,"month":4,"date":15,"hours":0,"minutes":36},{"utc":true,"year":2025,"month":4,"date":15,"hours":1,"minutes":16},{"utc":true,"year":2025,"month":4,"date":15,"hours":1,"minutes":56},{"utc":true,"year":2025,"month":4,"date":15,"hours":2,"minutes":36},{"utc":true,"year":2025,"month":4,"date":15,"hours":3,"minutes":14},{"utc":true,"year":2025,"month":4,"date":15,"hours":3,"minutes":54},{"utc":true,"year":2025,"month":4,"date":15,"hours":4,"minutes":34},{"utc":true,"year":2025,"month":4,"date":15,"hours":5,"minutes":14},{"utc":true,"year":2025,"month":4,"date":15,"hours":5,"minutes":54},{"utc":true,"year":2025,"month":4,"date":15,"hours":6,"minutes":32},{"utc":true,"year":2025,"month":4,"date":15,"hours":7,"minutes":12},{"utc":true,"year":2025,"month":4,"date":15,"hours":7,"minutes":52},{"utc":true,"year":2025,"month":4,"date":15,"hours":8,"minutes":32},{"utc":true,"year":2025,"month":4,"date":15,"hours":9,"minutes":10},{"utc":true,"year":2025,"month":4,"date":15,"hours":9,"minutes":50},{"utc":true,"year":2025,"month":4,"date":15,"hours":10,"minutes":30},{"utc":true,"year":2025,"month":4,"date":15,"hours":11,"minutes":10},{"utc":true,"year":2025,"month":4,"date":15,"hours":11,"minutes":48},{"utc":true,"year":2025,"month":4,"date":15,"hours":12,"minutes":28},{"utc":true,"year":2025,"month":4,"date":15,"hours":13,"minutes":8},{"utc":true,"year":2025,"month":4,"date":15,"hours":13,"minutes":48},{"utc":true,"year":2025,"month":4,"date":15,"hours":14,"minutes":26},{"utc":true,"year":2025,"month":4,"date":15,"hours":15,"minutes":6},{"utc":true,"year":2025,"month":4,"date":15,"hours":15,"minutes":46},{"utc":true,"year":2025,"month":4,"date":15,"hours":16,"minutes":26},{"utc":true,"year":2025,"month":4,"date":15,"hours":17,"minutes":4},{"utc":true,"year":2025,"month":4,"date":15,"hours":17,"minutes":44},{"utc":true,"year":2025,"month":4,"date":15,"hours":18,"minutes":24},{"utc":true,"year":2025,"month":4,"date":15,"hours":19,"minutes":4},{"utc":true,"year":2025,"month":4,"date":15,"hours":19,"minutes":44},{"utc":true,"year":2025,"month":4,"date":15,"hours":20,"minutes":22},{"utc":true,"year":2025,"month":4,"date":15,"hours":21,"minutes":2},{"utc":true,"year":2025,"month":4,"date":15,"hours":21,"minutes":42},{"utc":true,"year":2025,"month":4,"date":15,"hours":22,"minutes":22},{"utc":true,"year":2025,"month":4,"date":15,"hours":23,"minutes":0},{"utc":true,"year":2025,"month":4,"date":15,"hours":23,"minutes":40},
              {"utc":true,"year":2025,"month":4,"date":16,"hours":0,"minutes":20},{"utc":true,"year":2025,"month":4,"date":16,"hours":1,"minutes":0},{"utc":true,"year":2025,"month":4,"date":16,"hours":1,"minutes":38},{"utc":true,"year":2025,"month":4,"date":16,"hours":2,"minutes":18},{"utc":true,"year":2025,"month":4,"date":16,"hours":2,"minutes":58},{"utc":true,"year":2025,"month":4,"date":16,"hours":3,"minutes":38},{"utc":true,"year":2025,"month":4,"date":16,"hours":4,"minutes":16},{"utc":true,"year":2025,"month":4,"date":16,"hours":4,"minutes":56},{"utc":true,"year":2025,"month":4,"date":16,"hours":5,"minutes":36},{"utc":true,"year":2025,"month":4,"date":16,"hours":6,"minutes":16},{"utc":true,"year":2025,"month":4,"date":16,"hours":6,"minutes":54},{"utc":true,"year":2025,"month":4,"date":16,"hours":7,"minutes":34},{"utc":true,"year":2025,"month":4,"date":16,"hours":8,"minutes":14},{"utc":true,"year":2025,"month":4,"date":16,"hours":8,"minutes":54},{"utc":true,"year":2025,"month":4,"date":16,"hours":9,"minutes":34},{"utc":true,"year":2025,"month":4,"date":16,"hours":10,"minutes":12},{"utc":true,"year":2025,"month":4,"date":16,"hours":10,"minutes":52},{"utc":true,"year":2025,"month":4,"date":16,"hours":11,"minutes":32},{"utc":true,"year":2025,"month":4,"date":16,"hours":12,"minutes":12},{"utc":true,"year":2025,"month":4,"date":16,"hours":12,"minutes":50},{"utc":true,"year":2025,"month":4,"date":16,"hours":13,"minutes":30},{"utc":true,"year":2025,"month":4,"date":16,"hours":14,"minutes":10},{"utc":true,"year":2025,"month":4,"date":16,"hours":14,"minutes":50},{"utc":true,"year":2025,"month":4,"date":16,"hours":15,"minutes":28},{"utc":true,"year":2025,"month":4,"date":16,"hours":16,"minutes":8},{"utc":true,"year":2025,"month":4,"date":16,"hours":16,"minutes":48},{"utc":true,"year":2025,"month":4,"date":16,"hours":17,"minutes":28},{"utc":true,"year":2025,"month":4,"date":16,"hours":18,"minutes":6},{"utc":true,"year":2025,"month":4,"date":16,"hours":18,"minutes":46},{"utc":true,"year":2025,"month":4,"date":16,"hours":19,"minutes":26},{"utc":true,"year":2025,"month":4,"date":16,"hours":20,"minutes":6},{"utc":true,"year":2025,"month":4,"date":16,"hours":20,"minutes":44},{"utc":true,"year":2025,"month":4,"date":16,"hours":21,"minutes":24},{"utc":true,"year":2025,"month":4,"date":16,"hours":22,"minutes":4},{"utc":true,"year":2025,"month":4,"date":16,"hours":22,"minutes":44},{"utc":true,"year":2025,"month":4,"date":16,"hours":23,"minutes":24},
              {"utc":true,"year":2025,"month":4,"date":17,"hours":0,"minutes":2},{"utc":true,"year":2025,"month":4,"date":17,"hours":0,"minutes":42},{"utc":true,"year":2025,"month":4,"date":17,"hours":1,"minutes":22},{"utc":true,"year":2025,"month":4,"date":17,"hours":2,"minutes":2},{"utc":true,"year":2025,"month":4,"date":17,"hours":2,"minutes":40},{"utc":true,"year":2025,"month":4,"date":17,"hours":3,"minutes":20},{"utc":true,"year":2025,"month":4,"date":17,"hours":4,"minutes":0},{"utc":true,"year":2025,"month":4,"date":17,"hours":4,"minutes":40},{"utc":true,"year":2025,"month":4,"date":17,"hours":5,"minutes":18},{"utc":true,"year":2025,"month":4,"date":17,"hours":5,"minutes":58},{"utc":true,"year":2025,"month":4,"date":17,"hours":6,"minutes":38},{"utc":true,"year":2025,"month":4,"date":17,"hours":7,"minutes":18},{"utc":true,"year":2025,"month":4,"date":17,"hours":7,"minutes":56},{"utc":true,"year":2025,"month":4,"date":17,"hours":8,"minutes":36},{"utc":true,"year":2025,"month":4,"date":17,"hours":9,"minutes":16},{"utc":true,"year":2025,"month":4,"date":17,"hours":9,"minutes":56},{"utc":true,"year":2025,"month":4,"date":17,"hours":10,"minutes":34},{"utc":true,"year":2025,"month":4,"date":17,"hours":11,"minutes":14},{"utc":true,"year":2025,"month":4,"date":17,"hours":11,"minutes":54},{"utc":true,"year":2025,"month":4,"date":17,"hours":12,"minutes":34},{"utc":true,"year":2025,"month":4,"date":17,"hours":13,"minutes":14},{"utc":true,"year":2025,"month":4,"date":17,"hours":13,"minutes":52},{"utc":true,"year":2025,"month":4,"date":17,"hours":14,"minutes":32},{"utc":true,"year":2025,"month":4,"date":17,"hours":15,"minutes":12},{"utc":true,"year":2025,"month":4,"date":17,"hours":15,"minutes":52},{"utc":true,"year":2025,"month":4,"date":17,"hours":16,"minutes":30},{"utc":true,"year":2025,"month":4,"date":17,"hours":17,"minutes":10},{"utc":true,"year":2025,"month":4,"date":17,"hours":17,"minutes":50},{"utc":true,"year":2025,"month":4,"date":17,"hours":18,"minutes":30},{"utc":true,"year":2025,"month":4,"date":17,"hours":19,"minutes":8},{"utc":true,"year":2025,"month":4,"date":17,"hours":19,"minutes":48},{"utc":true,"year":2025,"month":4,"date":17,"hours":20,"minutes":28},{"utc":true,"year":2025,"month":4,"date":17,"hours":21,"minutes":8},{"utc":true,"year":2025,"month":4,"date":17,"hours":21,"minutes":46},{"utc":true,"year":2025,"month":4,"date":17,"hours":22,"minutes":26},{"utc":true,"year":2025,"month":4,"date":17,"hours":23,"minutes":6},{"utc":true,"year":2025,"month":4,"date":17,"hours":23,"minutes":46}
            ]
          }
        },
        "y": {
          "field": "v", "type": "quantitative",
          "scale": {"domain": [4.26, 15.73], "range": [700, 52], "nice": false, "zero": false},
          "axis": {
            "orient": "left", "offset": -78, "title": null,
            "values": [4.5,4.75,5,5.25,5.5,5.75,6,6.25,6.5,6.75,7,7.25,7.5,7.75,8,8.25,8.5,8.75,9,9.25,9.5,9.75,10,10.25,10.5,10.75,11,11.25,11.5,11.75,12,12.25,12.5,12.75,13,13.25,13.5,13.75,14,14.25,14.5,14.75,15,15.25,15.5],
            "labelExpr": "datum.value % 1 === 0 ? format(datum.value, 'd') : ''",
            "labelOverlap": false, "labelFlush": false,
            "labelFont": "Liberation Sans", "labelFontSize": 11, "labelColor": "#000000", "labelPadding": 2,
            "grid": true, "gridColor": "#808080", "gridDash": [3, 2], "gridWidth": 1,
            "gridOpacity": {"condition": {"test": "datum.value % 1 !== 0", "value": 0}, "value": 1},
            "ticks": true, "tickColor": "#000000",
            "tickSize": {"condition": {"test": "datum.value % 1 === 0", "value": 4}, "value": 3},
            "domain": true, "domainColor": "#000000", "domainWidth": 3
          }
        }
      }
    },
    {
      "mark": {"type": "line", "color": "#000000", "strokeWidth": 1},
      "encoding": {
        "x": {
          "field": "t", "type": "temporal",
          "axis": {
            "orient": "bottom", "offset": -125, "title": null, "grid": false,
            "labelAngle": -90, "labelOverlap": false, "labelFlush": false,
            "labelExpr": "utcFormat(datum.value, '%H:%M') === '00:00' ? utcFormat(datum.value, '%Y-%m-%d') : utcFormat(datum.value, '%Y-%m-%d %H:%M')",
            "labelFont": "Liberation Sans", "labelFontSize": 11, "labelColor": "#000000", "labelPadding": 3,
            "ticks": true, "tickSize": 3, "tickColor": "#000000",
            "domain": true, "domainColor": "#000000", "domainWidth": 2,
            "values": [
              {"utc":true,"year":2025,"month":4,"date":15,"hours":0,"minutes":0},{"utc":true,"year":2025,"month":4,"date":15,"hours":0,"minutes":36},{"utc":true,"year":2025,"month":4,"date":15,"hours":1,"minutes":16},{"utc":true,"year":2025,"month":4,"date":15,"hours":1,"minutes":56},{"utc":true,"year":2025,"month":4,"date":15,"hours":2,"minutes":36},{"utc":true,"year":2025,"month":4,"date":15,"hours":3,"minutes":14},{"utc":true,"year":2025,"month":4,"date":15,"hours":3,"minutes":54},{"utc":true,"year":2025,"month":4,"date":15,"hours":4,"minutes":34},{"utc":true,"year":2025,"month":4,"date":15,"hours":5,"minutes":14},{"utc":true,"year":2025,"month":4,"date":15,"hours":5,"minutes":54},{"utc":true,"year":2025,"month":4,"date":15,"hours":6,"minutes":32},{"utc":true,"year":2025,"month":4,"date":15,"hours":7,"minutes":12},{"utc":true,"year":2025,"month":4,"date":15,"hours":7,"minutes":52},{"utc":true,"year":2025,"month":4,"date":15,"hours":8,"minutes":32},{"utc":true,"year":2025,"month":4,"date":15,"hours":9,"minutes":10},{"utc":true,"year":2025,"month":4,"date":15,"hours":9,"minutes":50},{"utc":true,"year":2025,"month":4,"date":15,"hours":10,"minutes":30},{"utc":true,"year":2025,"month":4,"date":15,"hours":11,"minutes":10},{"utc":true,"year":2025,"month":4,"date":15,"hours":11,"minutes":48},{"utc":true,"year":2025,"month":4,"date":15,"hours":12,"minutes":28},{"utc":true,"year":2025,"month":4,"date":15,"hours":13,"minutes":8},{"utc":true,"year":2025,"month":4,"date":15,"hours":13,"minutes":48},{"utc":true,"year":2025,"month":4,"date":15,"hours":14,"minutes":26},{"utc":true,"year":2025,"month":4,"date":15,"hours":15,"minutes":6},{"utc":true,"year":2025,"month":4,"date":15,"hours":15,"minutes":46},{"utc":true,"year":2025,"month":4,"date":15,"hours":16,"minutes":26},{"utc":true,"year":2025,"month":4,"date":15,"hours":17,"minutes":4},{"utc":true,"year":2025,"month":4,"date":15,"hours":17,"minutes":44},{"utc":true,"year":2025,"month":4,"date":15,"hours":18,"minutes":24},{"utc":true,"year":2025,"month":4,"date":15,"hours":19,"minutes":4},{"utc":true,"year":2025,"month":4,"date":15,"hours":19,"minutes":44},{"utc":true,"year":2025,"month":4,"date":15,"hours":20,"minutes":22},{"utc":true,"year":2025,"month":4,"date":15,"hours":21,"minutes":2},{"utc":true,"year":2025,"month":4,"date":15,"hours":21,"minutes":42},{"utc":true,"year":2025,"month":4,"date":15,"hours":22,"minutes":22},{"utc":true,"year":2025,"month":4,"date":15,"hours":23,"minutes":0},{"utc":true,"year":2025,"month":4,"date":15,"hours":23,"minutes":40},
              {"utc":true,"year":2025,"month":4,"date":16,"hours":0,"minutes":20},{"utc":true,"year":2025,"month":4,"date":16,"hours":1,"minutes":0},{"utc":true,"year":2025,"month":4,"date":16,"hours":1,"minutes":38},{"utc":true,"year":2025,"month":4,"date":16,"hours":2,"minutes":18},{"utc":true,"year":2025,"month":4,"date":16,"hours":2,"minutes":58},{"utc":true,"year":2025,"month":4,"date":16,"hours":3,"minutes":38},{"utc":true,"year":2025,"month":4,"date":16,"hours":4,"minutes":16},{"utc":true,"year":2025,"month":4,"date":16,"hours":4,"minutes":56},{"utc":true,"year":2025,"month":4,"date":16,"hours":5,"minutes":36},{"utc":true,"year":2025,"month":4,"date":16,"hours":6,"minutes":16},{"utc":true,"year":2025,"month":4,"date":16,"hours":6,"minutes":54},{"utc":true,"year":2025,"month":4,"date":16,"hours":7,"minutes":34},{"utc":true,"year":2025,"month":4,"date":16,"hours":8,"minutes":14},{"utc":true,"year":2025,"month":4,"date":16,"hours":8,"minutes":54},{"utc":true,"year":2025,"month":4,"date":16,"hours":9,"minutes":34},{"utc":true,"year":2025,"month":4,"date":16,"hours":10,"minutes":12},{"utc":true,"year":2025,"month":4,"date":16,"hours":10,"minutes":52},{"utc":true,"year":2025,"month":4,"date":16,"hours":11,"minutes":32},{"utc":true,"year":2025,"month":4,"date":16,"hours":12,"minutes":12},{"utc":true,"year":2025,"month":4,"date":16,"hours":12,"minutes":50},{"utc":true,"year":2025,"month":4,"date":16,"hours":13,"minutes":30},{"utc":true,"year":2025,"month":4,"date":16,"hours":14,"minutes":10},{"utc":true,"year":2025,"month":4,"date":16,"hours":14,"minutes":50},{"utc":true,"year":2025,"month":4,"date":16,"hours":15,"minutes":28},{"utc":true,"year":2025,"month":4,"date":16,"hours":16,"minutes":8},{"utc":true,"year":2025,"month":4,"date":16,"hours":16,"minutes":48},{"utc":true,"year":2025,"month":4,"date":16,"hours":17,"minutes":28},{"utc":true,"year":2025,"month":4,"date":16,"hours":18,"minutes":6},{"utc":true,"year":2025,"month":4,"date":16,"hours":18,"minutes":46},{"utc":true,"year":2025,"month":4,"date":16,"hours":19,"minutes":26},{"utc":true,"year":2025,"month":4,"date":16,"hours":20,"minutes":6},{"utc":true,"year":2025,"month":4,"date":16,"hours":20,"minutes":44},{"utc":true,"year":2025,"month":4,"date":16,"hours":21,"minutes":24},{"utc":true,"year":2025,"month":4,"date":16,"hours":22,"minutes":4},{"utc":true,"year":2025,"month":4,"date":16,"hours":22,"minutes":44},{"utc":true,"year":2025,"month":4,"date":16,"hours":23,"minutes":24},
              {"utc":true,"year":2025,"month":4,"date":17,"hours":0,"minutes":2},{"utc":true,"year":2025,"month":4,"date":17,"hours":0,"minutes":42},{"utc":true,"year":2025,"month":4,"date":17,"hours":1,"minutes":22},{"utc":true,"year":2025,"month":4,"date":17,"hours":2,"minutes":2},{"utc":true,"year":2025,"month":4,"date":17,"hours":2,"minutes":40},{"utc":true,"year":2025,"month":4,"date":17,"hours":3,"minutes":20},{"utc":true,"year":2025,"month":4,"date":17,"hours":4,"minutes":0},{"utc":true,"year":2025,"month":4,"date":17,"hours":4,"minutes":40},{"utc":true,"year":2025,"month":4,"date":17,"hours":5,"minutes":18},{"utc":true,"year":2025,"month":4,"date":17,"hours":5,"minutes":58},{"utc":true,"year":2025,"month":4,"date":17,"hours":6,"minutes":38},{"utc":true,"year":2025,"month":4,"date":17,"hours":7,"minutes":18},{"utc":true,"year":2025,"month":4,"date":17,"hours":7,"minutes":56},{"utc":true,"year":2025,"month":4,"date":17,"hours":8,"minutes":36},{"utc":true,"year":2025,"month":4,"date":17,"hours":9,"minutes":16},{"utc":true,"year":2025,"month":4,"date":17,"hours":9,"minutes":56},{"utc":true,"year":2025,"month":4,"date":17,"hours":10,"minutes":34},{"utc":true,"year":2025,"month":4,"date":17,"hours":11,"minutes":14},{"utc":true,"year":2025,"month":4,"date":17,"hours":11,"minutes":54},{"utc":true,"year":2025,"month":4,"date":17,"hours":12,"minutes":34},{"utc":true,"year":2025,"month":4,"date":17,"hours":13,"minutes":14},{"utc":true,"year":2025,"month":4,"date":17,"hours":13,"minutes":52},{"utc":true,"year":2025,"month":4,"date":17,"hours":14,"minutes":32},{"utc":true,"year":2025,"month":4,"date":17,"hours":15,"minutes":12},{"utc":true,"year":2025,"month":4,"date":17,"hours":15,"minutes":52},{"utc":true,"year":2025,"month":4,"date":17,"hours":16,"minutes":30},{"utc":true,"year":2025,"month":4,"date":17,"hours":17,"minutes":10},{"utc":true,"year":2025,"month":4,"date":17,"hours":17,"minutes":50},{"utc":true,"year":2025,"month":4,"date":17,"hours":18,"minutes":30},{"utc":true,"year":2025,"month":4,"date":17,"hours":19,"minutes":8},{"utc":true,"year":2025,"month":4,"date":17,"hours":19,"minutes":48},{"utc":true,"year":2025,"month":4,"date":17,"hours":20,"minutes":28},{"utc":true,"year":2025,"month":4,"date":17,"hours":21,"minutes":8},{"utc":true,"year":2025,"month":4,"date":17,"hours":21,"minutes":46},{"utc":true,"year":2025,"month":4,"date":17,"hours":22,"minutes":26},{"utc":true,"year":2025,"month":4,"date":17,"hours":23,"minutes":6},{"utc":true,"year":2025,"month":4,"date":17,"hours":23,"minutes":46}
            ]
          }
        },
        "y": {
          "field": "v", "type": "quantitative",
          "axis": {
            "orient": "right", "offset": -78, "title": null, "grid": false,
            "values": [4.5,4.75,5,5.25,5.5,5.75,6,6.25,6.5,6.75,7,7.25,7.5,7.75,8,8.25,8.5,8.75,9,9.25,9.5,9.75,10,10.25,10.5,10.75,11,11.25,11.5,11.75,12,12.25,12.5,12.75,13,13.25,13.5,13.75,14,14.25,14.5,14.75,15,15.25,15.5],
            "labelExpr": "datum.value % 1 === 0 ? format(datum.value, 'd') : ''",
            "labelOverlap": false, "labelFlush": false,
            "labelFont": "Liberation Sans", "labelFontSize": 11, "labelColor": "#000000", "labelPadding": 1,
            "ticks": true, "tickColor": "#000000",
            "tickSize": {"condition": {"test": "datum.value % 1 === 0", "value": 5}, "value": 3},
            "domain": true, "domainColor": "#000000", "domainWidth": 2
          }
        }
      }
    },
    {
      "data": {"values": [{"label": "LosyZiemi.pl - wibi"}]},
      "mark": {"type": "rect", "color": "#008000"},
      "encoding": {
        "x": {"datum": {"utc": true, "year": 2025, "month": 4, "date": 14, "hours": 22, "minutes": 41}, "type": "temporal", "axis": null},
        "x2": {"datum": {"utc": true, "year": 2025, "month": 4, "date": 15, "hours": 3, "minutes": 2, "seconds": 30}},
        "y": {"datum": 16.473, "type": "quantitative", "axis": null},
        "y2": {"datum": 16.226}
      }
    },
    {
      "data": {"values": [{"label": "LosyZiemi.pl - wibi"}]},
      "mark": {"type": "text", "color": "#ffff00", "font": "Liberation Sans", "fontSize": 11.5, "fontWeight": "bold", "align": "center", "baseline": "middle"},
      "encoding": {
        "x": {"datum": {"utc": true, "year": 2025, "month": 4, "date": 15, "hours": 0, "minutes": 52}, "type": "temporal", "axis": null},
        "y": {"datum": 16.35, "type": "quantitative", "axis": null},
        "text": {"field": "label"}
      }
    },
    {
      "data": {"values": [{"label": "mJ/m3/s"}]},
      "mark": {"type": "rect", "color": "#ff0000"},
      "encoding": {
        "x": {"datum": {"utc": true, "year": 2025, "month": 4, "date": 17, "hours": 23, "minutes": 14}, "type": "temporal", "axis": null},
        "x2": {"datum": {"utc": true, "year": 2025, "month": 4, "date": 18, "hours": 1, "minutes": 17, "seconds": 30}},
        "y": {"datum": 16.562, "type": "quantitative", "axis": null},
        "y2": {"datum": 16.344}
      }
    },
    {
      "data": {"values": [{"label": "mJ/m3/s"}]},
      "mark": {"type": "text", "color": "#ffffff", "font": "DejaVu Sans Mono", "fontSize": 11.5, "fontWeight": "bold", "align": "center", "baseline": "middle"},
      "encoding": {
        "x": {"datum": {"utc": true, "year": 2025, "month": 4, "date": 18, "hours": 0, "minutes": 16}, "type": "temporal", "axis": null},
        "y": {"datum": 16.452, "type": "quantitative", "axis": null},
        "text": {"field": "label"}
      }
    },
    {
      "data": {"values": [{"label": "Energia drgań magnetycznych w osi Z (góra-dół): 2025-04-15 - 2025-04-17"}]},
      "mark": {"type": "text", "color": "#ffff00", "font": "Liberation Sans", "fontSize": 11, "align": "center", "baseline": "middle"},
      "encoding": {
        "x": {"datum": {"utc": true, "year": 2025, "month": 4, "date": 16, "hours": 11, "minutes": 55, "seconds": 36}, "type": "temporal", "axis": null},
        "y": {"datum": 15.96, "type": "quantitative", "axis": null},
        "text": {"field": "label"}
      }
    },
    {
      "data": {"values": [{"label": "UTC"}]},
      "mark": {"type": "text", "color": "#000000", "font": "Liberation Sans", "fontSize": 9, "fontWeight": "bold", "align": "center", "baseline": "middle"},
      "encoding": {
        "x": {"datum": {"utc": true, "year": 2025, "month": 4, "date": 18, "hours": 1, "minutes": 40}, "type": "temporal", "axis": null},
        "y": {"datum": 2.295, "type": "quantitative", "axis": null},
        "text": {"field": "label"}
      }
    }
  ]
}
